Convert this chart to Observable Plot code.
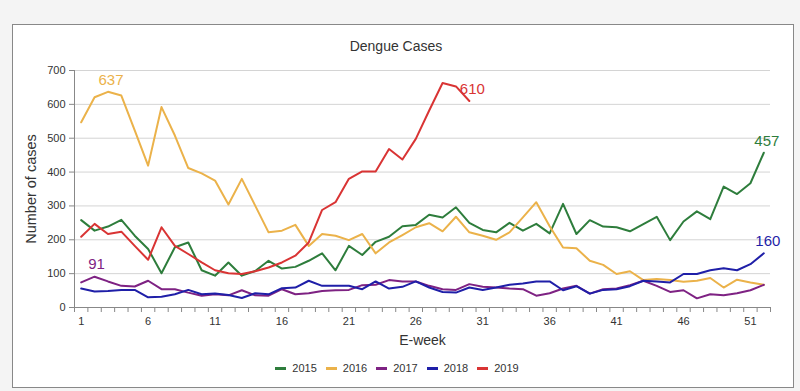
<!DOCTYPE html>
<html><head><meta charset="utf-8">
<script src="https://cdn.jsdelivr.net/npm/d3@7"></script>
<script src="https://cdn.jsdelivr.net/npm/@observablehq/plot@0.6"></script>
<style>
body{margin:0;background:#f4f4f4;font-family:"Liberation Sans",Arial,sans-serif;width:800px;height:391px;overflow:hidden;position:relative;}
#frame{position:absolute;left:12px;top:24px;width:782px;height:364px;background:#fff;border:1.5px solid #888;box-sizing:border-box;}
#chart{position:absolute;left:0;top:0;}
#title{position:absolute;top:38px;left:0;width:792px;text-align:center;font-size:14px;line-height:16px;color:#333;}
#legend{position:absolute;top:361px;left:0;width:794px;display:flex;justify-content:center;font-size:11px;line-height:14px;color:#333;}
#legend .item{display:flex;align-items:center;margin:0 4.5px;}
#legend .sw{width:11px;height:3px;margin-right:6px;}
</style></head>
<body>
<div id="frame"></div>
<div id="chart"></div>
<div id="title">Dengue Cases</div>
<div id="legend"></div>
<script>
const years = ["2015", "2016", "2017", "2018", "2019"];
const colors = ["#2e7d3c", "#ebb24a", "#7e2283", "#1f1fa8", "#d93434"];
const xTickLabels = [1, 6, 11, 16, 21, 26, 31, 36, 41, 46, 51];
const yTicks = [0, 100, 200, 300, 400, 500, 600, 700];
const xDomain = [0.5, 52.5];

const cases2015 = [258, 227, 239, 259, 212, 173, 101, 178, 192, 110, 94, 133, 94, 108, 138, 115, 120, 138, 160, 110, 182, 155, 194, 209, 240, 244, 274, 266, 296, 250, 229, 222, 250, 227, 247, 219, 306, 217, 258, 239, 237, 225, 246, 268, 199, 254, 284, 261, 357, 335, 367, 457];
const cases2016 = [547, 621, 637, 626, 523, 419, 592, 508, 412, 396, 375, 304, 380, 301, 222, 227, 244, 182, 217, 212, 199, 217, 160, 192, 214, 237, 249, 225, 268, 222, 212, 200, 222, 266, 311, 240, 177, 175, 138, 126, 99, 107, 81, 84, 81, 76, 79, 87, 59, 82, 74, 67];
const cases2017 = [74, 91, 77, 64, 62, 79, 54, 54, 44, 35, 39, 36, 51, 36, 35, 54, 39, 42, 49, 51, 52, 66, 67, 81, 77, 77, 64, 54, 52, 69, 61, 59, 56, 54, 35, 42, 56, 64, 41, 54, 56, 66, 79, 64, 46, 51, 27, 39, 36, 42, 51, 67];
const cases2018 = [56, 47, 49, 52, 52, 30, 32, 39, 52, 39, 41, 37, 28, 42, 39, 57, 59, 79, 64, 64, 64, 54, 77, 56, 61, 77, 59, 46, 44, 59, 52, 59, 67, 71, 77, 77, 51, 63, 41, 52, 54, 63, 79, 77, 74, 99, 99, 110, 116, 110, 128, 160];
const cases2019 = [209, 247, 217, 224, 182, 141, 237, 182, 158, 133, 110, 101, 99, 107, 118, 133, 153, 192, 288, 311, 380, 402, 402, 468, 437, 498, 582, 663, 653, 610];

const seriesList = [cases2015, cases2016, cases2017, cases2018, cases2019];
const rows = years.flatMap((yr, k) => seriesList[k].map((v, i) => ({year: yr, week: i + 1, cases: v})));
const pick = (yr, wk) => rows.find(r => r.year === yr && r.week === wk);

const lbl = (yr, wk, opts) => Plot.text([pick(yr, wk)], {
  x: "week", y: "cases", text: d => String(d.cases), fill: "year",
  fontSize: 15, ...opts
});

const chart = Plot.plot({
  width: 800, height: 355,
  marginLeft: 74, marginRight: 30, marginTop: 70, marginBottom: 48,
  style: {background: "transparent", fontFamily: "'Liberation Sans', Arial, sans-serif", color: "#333"},
  x: {domain: xDomain},
  y: {domain: [0, 700]},
  color: {domain: years, range: colors},
  marks: [
    Plot.gridY({ticks: yTicks.slice(1), stroke: "#d4d4d4", strokeOpacity: 1}),
    Plot.axisY({ticks: yTicks, tickSize: 5, tickPadding: 4, fontSize: 11, stroke: "#888", label: null}),
    Plot.axisX({ticks: d3.range(xDomain[0], xDomain[1] + 1, 1), tickSize: 5, tickFormat: () => "", stroke: "#888", label: null}),
    Plot.axisX({ticks: xTickLabels, tickSize: 0, tickPadding: 10, fontSize: 11, label: null}),
    Plot.ruleY([0], {stroke: "#888"}),
    Plot.ruleX([xDomain[0]], {stroke: "#888"}),
    Plot.line(rows, {x: "week", y: "cases", z: "year", stroke: "year", strokeWidth: 2}),
    lbl("2016", 3, {dx: 3, dy: -12}),
    lbl("2017", 2, {dx: 2, dy: -13}),
    lbl("2019", 30, {dx: 3, dy: -12}),
    lbl("2015", 52, {dx: 3, dy: -12}),
    lbl("2018", 52, {dx: 4, dy: -12}),
    Plot.text(["E-week"], {frameAnchor: "bottom", textAnchor: "middle", lineAnchor: "middle", dy: 33, fontSize: 14, fill: "#333"}),
    Plot.text(["Number of cases"], {frameAnchor: "left", textAnchor: "middle", lineAnchor: "middle", dx: -43, rotate: -90, fontSize: 14.5, fill: "#333"})
  ]
});
document.getElementById("chart").appendChild(chart);

const legend = document.getElementById("legend");
years.forEach((yr, k) => {
  const item = document.createElement("div");
  item.className = "item";
  const sw = document.createElement("span");
  sw.className = "sw";
  sw.style.background = colors[k];
  const t = document.createElement("span");
  t.textContent = yr;
  item.appendChild(sw);
  item.appendChild(t);
  legend.appendChild(item);
});
</script>
</body></html>
